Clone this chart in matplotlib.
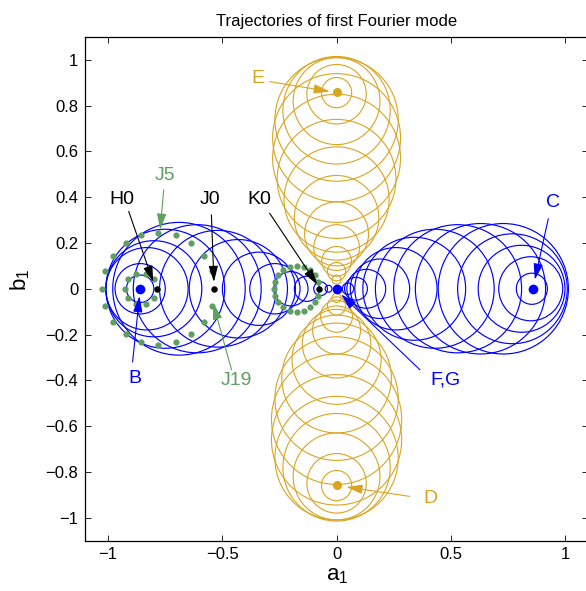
import numpy as np
import matplotlib
matplotlib.use("Agg")
import matplotlib.pyplot as plt
from matplotlib.patches import Circle

plt.rcParams['font.family'] = ['Liberation Sans', 'DejaVu Sans']

# circles along the a1 axis (left lobe: B -> F,G)
left_c = [-0.86, -0.86, -0.83, -0.80, -0.75, -0.69, -0.61, -0.52, -0.43,
          -0.34, -0.27, -0.20, -0.13, -0.07, -0.035]
left_r = [0.06, 0.11, 0.18, 0.21, 0.26, 0.29, 0.28, 0.255, 0.215,
          0.16, 0.11, 0.075, 0.055, 0.03, 0.015]

# circles along the a1 axis (right lobe: C -> F,G)
right_c = [0.855, 0.85, 0.81, 0.77, 0.73, 0.63, 0.53, 0.43, 0.34,
           0.26, 0.19, 0.13, 0.085, 0.05]
right_r = [0.068, 0.14, 0.19, 0.24, 0.285, 0.285, 0.28, 0.26, 0.225,
           0.18, 0.13, 0.085, 0.05, 0.025]

# circles along the b1 axis (E above, D below)
gold_top_c = [0.857, 0.85, 0.82, 0.78, 0.74, 0.66, 0.57, 0.48, 0.39,
              0.31, 0.24, 0.18, 0.12, 0.075, 0.04]
gold_top_r = [0.066, 0.13, 0.19, 0.235, 0.27, 0.28, 0.28, 0.26, 0.23,
              0.185, 0.14, 0.10, 0.065, 0.04, 0.02]
gold_bot_c = [-0.86, -0.85, -0.82, -0.78, -0.74, -0.66, -0.57, -0.48, -0.39,
              -0.31, -0.24, -0.18, -0.12, -0.075, -0.04]
gold_bot_r = [0.066, 0.13, 0.19, 0.235, 0.27, 0.285, 0.285, 0.27, 0.24,
              0.195, 0.15, 0.105, 0.07, 0.04, 0.02]

# green sampled circles: centre a1, radius, number of samples
green_c = [-0.857, -0.78, -0.175]
green_r = [0.069, 0.245, 0.10]
green_n = [10, 20, 20]

# labelled points
blue_pts = {'B': (-0.861, 0.0), 'C': (0.858, 0.0), 'F,G': (0.0, 0.0)}
gold_pts = {'E': (0.0, 0.859), 'D': (0.0, -0.857)}
black_pts = {'H0': (-0.788, 0.0), 'J0': (-0.535, 0.0), 'K0': (-0.075, 0.0)}

xticks = [-1, -0.5, 0, 0.5, 1]
xticklabels = ['\u22121', '\u22120.5', '0', '0.5', '1']
yticks = [-1, -0.8, -0.6, -0.4, -0.2, 0, 0.2, 0.4, 0.6, 0.8, 1]
yticklabels = ['\u22121', '\u22120.8', '\u22120.6', '\u22120.4', '\u22120.2', '0',
               '0.2', '0.4', '0.6', '0.8', '1']

blue = '#0000ff'
gold = '#d9a521'
green = '#5f9f5f'

fig = plt.figure(figsize=(5.86, 5.91), dpi=100)
ax = fig.add_axes([0.1456, 0.0854, 0.8575, 0.852])

for c, r in zip(gold_top_c, gold_top_r):
    ax.add_patch(Circle((0, c), r, fill=False, ec=gold, lw=0.8))
for c, r in zip(gold_bot_c, gold_bot_r):
    ax.add_patch(Circle((0, c), r, fill=False, ec=gold, lw=0.8))
for c, r in zip(left_c, left_r):
    ax.add_patch(Circle((c, 0), r, fill=False, ec=blue, lw=0.85))
for c, r in zip(right_c, right_r):
    ax.add_patch(Circle((c, 0), r, fill=False, ec=blue, lw=0.85))

for c, r, n in zip(green_c, green_r, green_n):
    th = 2 * np.pi * np.arange(n) / n
    ax.plot(c + r * np.cos(th), r * np.sin(th), 'o', color=green, ms=4.5, mec='none')

for p in blue_pts.values():
    ax.plot(*p, 'o', color=blue, ms=7, mec='none')
for p in gold_pts.values():
    ax.plot(*p, 'o', color=gold, ms=6.5, mec='none')
for p in black_pts.values():
    ax.plot(*p, 'o', color='k', ms=4.5, mec='none')

# annotations: label, text pos, arrow tail, arrow tip, colour
notes = [
    ('H0', (-0.94, 0.39), (-0.91, 0.338), (-0.803, 0.03), 'k'),
    ('J0', (-0.552, 0.39), (-0.548, 0.323), (-0.537, 0.03), 'k'),
    ('K0', (-0.34, 0.39), (-0.293, 0.33), (-0.085, 0.018), 'k'),
    ('J5', (-0.749, 0.496), (-0.757, 0.432), (-0.772, 0.258), green),
    ('J19', (-0.44, -0.40), (-0.46, -0.354), (-0.54, -0.064), green),
    ('B', (-0.885, -0.39), (-0.893, -0.32), (-0.863, -0.032), blue),
    ('C', (0.949, 0.376), (0.927, 0.306), (0.868, 0.04), blue),
    ('F,G', (0.478, -0.40), (0.365, -0.354), (0.02, -0.025), blue),
    ('E', (-0.345, 0.917), (-0.293, 0.905), (-0.03, 0.862), gold),
    ('D', (0.41, -0.915), (0.32, -0.907), (0.043, -0.866), gold),
]
for lab, tpos, tail, tip, col in notes:
    ax.text(tpos[0], tpos[1], lab, color=col, fontsize=14, ha='center', va='center')
    ax.annotate('', xy=tip, xytext=tail,
                arrowprops=dict(arrowstyle='-|>,head_length=0.75,head_width=0.22',
                                color=col, lw=0.8, shrinkA=0, shrinkB=0,
                                mutation_scale=13))

ax.set_xlim(-1.1, 1.1)
ax.set_ylim(-1.1, 1.1)
ax.set_xticks(xticks)
ax.set_xticklabels(xticklabels)
ax.set_yticks(yticks)
ax.set_yticklabels(yticklabels)
ax.tick_params(direction='in', length=4, width=0.6, top=True, right=True,
               labelsize=12, pad=5)
for s in ax.spines.values():
    s.set_linewidth(0.9)

ax.set_title('Trajectories of first Fourier mode', fontsize=12, pad=8)
ax.text(0.501, -0.0685, r'$\mathregular{a_1}$', transform=ax.transAxes,
        fontsize=16, ha='center', va='center')
ax.text(-0.13, 0.517, r'$\mathregular{b_1}$', transform=ax.transAxes,
        fontsize=16, ha='center', va='center', rotation=90)

fig.savefig('out.png', dpi=100)
